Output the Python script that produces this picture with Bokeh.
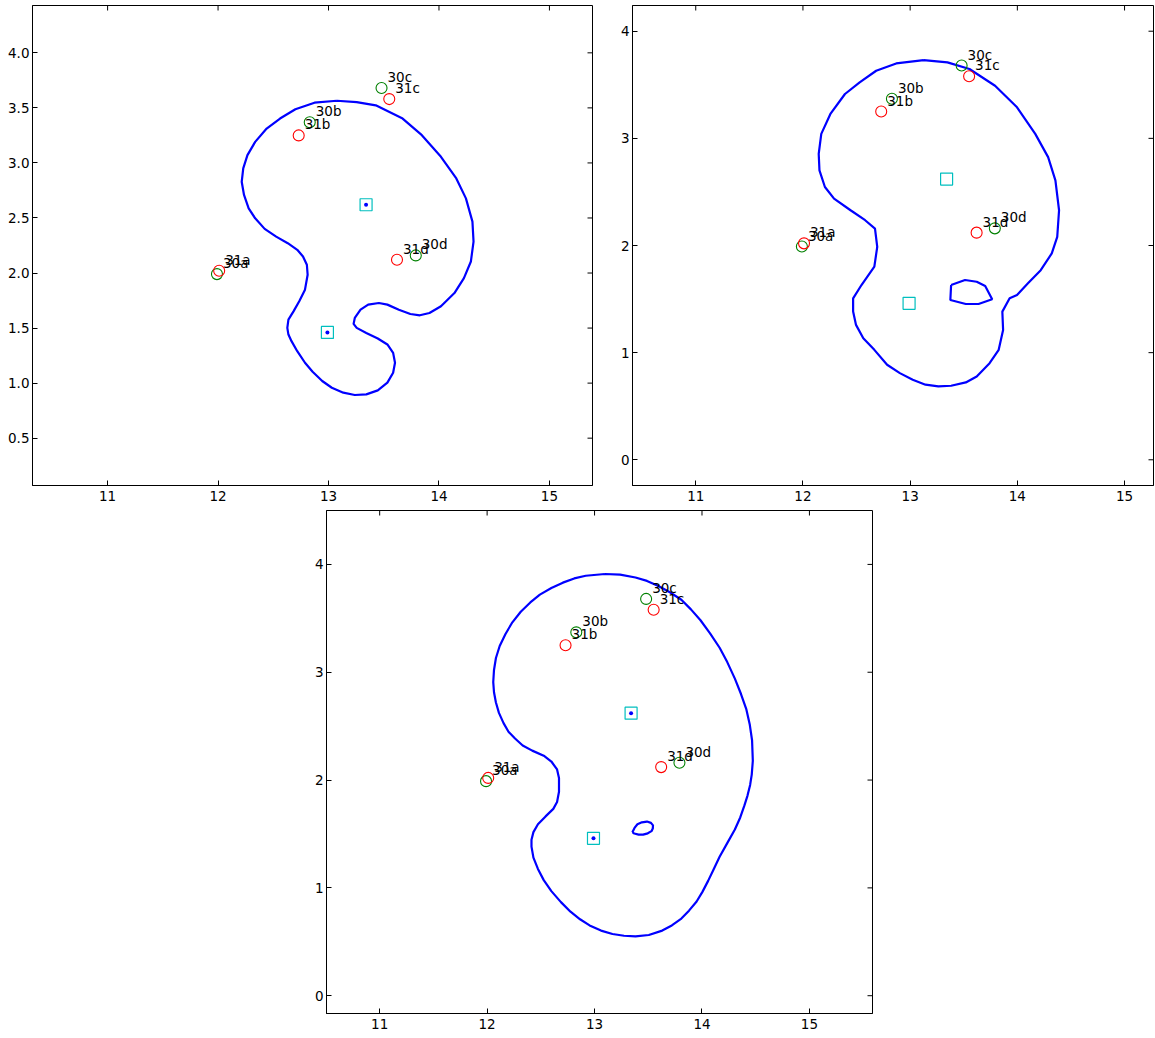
import math
from bokeh.plotting import figure
from bokeh.models import FixedTicker, Spacer, Row, Column, ColumnDataSource, Range1d
from bokeh.core.properties import value
from bokeh.embed import file_html
from bokeh.resources import INLINE

# ---------------- data ----------------
labels30 = ["30a", "30b", "30c", "30d"]
x30 = [11.99, 12.83, 13.48, 13.79]
y30 = [1.99, 3.37, 3.68, 2.16]

labels31 = ["31a", "31b", "31c", "31d"]
x31 = [12.01, 12.73, 13.55, 13.62]
y31 = [2.02, 3.25, 3.58, 2.12]

centers_x = [13.34, 12.99]
centers_y = [2.62, 1.46]

# panel 1 contour
c1_x = [13.075, 13.255, 13.428, 13.671, 13.845, 14.018, 14.157, 14.244, 14.303, 14.313,
        14.289, 14.226, 14.140, 14.018, 13.914, 13.827, 13.741, 13.637, 13.533, 13.456,
        13.359, 13.29, 13.238, 13.227, 13.255, 13.342, 13.446, 13.533, 13.585, 13.602,
        13.585, 13.533, 13.446, 13.342, 13.238, 13.134, 13.03, 12.943, 12.856, 12.787,
        12.717, 12.665, 12.637, 12.627, 12.637, 12.683, 12.735, 12.787, 12.811, 12.804,
        12.769, 12.717, 12.631, 12.526, 12.422, 12.336, 12.277, 12.235, 12.214, 12.228,
        12.266, 12.336, 12.44, 12.561, 12.70, 12.873, 13.075]
c1_y = [3.565, 3.553, 3.523, 3.403, 3.252, 3.056, 2.859, 2.678, 2.467, 2.286,
        2.105, 1.954, 1.818, 1.698, 1.637, 1.616, 1.628, 1.667, 1.713, 1.728,
        1.713, 1.667, 1.592, 1.538, 1.502, 1.456, 1.405, 1.351, 1.275, 1.185,
        1.094, 1.004, 0.934, 0.898, 0.892, 0.913, 0.958, 1.019, 1.103, 1.185,
        1.29, 1.381, 1.441, 1.502, 1.577, 1.652, 1.743, 1.849, 1.984, 2.075,
        2.15, 2.211, 2.271, 2.331, 2.401, 2.497, 2.588, 2.709, 2.829, 2.95,
        3.071, 3.191, 3.312, 3.403, 3.487, 3.547, 3.565]

# panel 2 contour (outer + inner loop)
c2_x = [13.126, 13.348, 13.553, 13.792, 13.997, 14.167, 14.287, 14.355, 14.389, 14.372,
        14.321, 14.218, 14.099, 13.997, 13.928, 13.86, 13.867, 13.826, 13.741, 13.621,
        13.519, 13.382, 13.263, 13.143, 13.024, 12.904, 12.785, 12.666, 12.563, 12.495,
        12.468, 12.468, 12.546, 12.666, 12.693, 12.672, 12.58, 12.444, 12.29, 12.205,
        12.154, 12.147, 12.171, 12.256, 12.392, 12.529, 12.683, 12.87, 13.126]
c2_y = [3.73, 3.709, 3.647, 3.491, 3.29, 3.042, 2.825, 2.608, 2.329, 2.081,
        1.926, 1.77, 1.647, 1.538, 1.507, 1.383, 1.212, 1.026, 0.902, 0.778,
        0.722, 0.691, 0.685, 0.701, 0.747, 0.809, 0.887, 1.026, 1.135, 1.259,
        1.383, 1.507, 1.631, 1.802, 1.988, 2.158, 2.236, 2.329, 2.437, 2.546,
        2.701, 2.856, 3.042, 3.228, 3.414, 3.522, 3.631, 3.699, 3.73]
c2_in_x = [13.382, 13.512, 13.621, 13.70, 13.765, 13.638, 13.519, 13.375, 13.382]
c2_in_y = [1.631, 1.678, 1.662, 1.622, 1.498, 1.454, 1.454, 1.491, 1.631]

# panel 3 contour (outer + inner ellipse)
c3_x = [13.096, 13.238, 13.381, 13.488, 13.594, 13.701, 13.808, 13.897, 13.986, 14.075,
        14.164, 14.235, 14.306, 14.363, 14.413, 14.445, 14.466, 14.473, 14.463, 14.448,
        14.423, 14.395, 14.356, 14.306, 14.235, 14.164, 14.11, 14.057, 14.004, 13.95,
        13.879, 13.808, 13.719, 13.63, 13.505, 13.381, 13.274, 13.167, 13.06, 12.954,
        12.865, 12.776, 12.687, 12.598, 12.527, 12.473, 12.431, 12.413, 12.413, 12.431,
        12.473, 12.544, 12.616, 12.651, 12.669, 12.669, 12.651, 12.598, 12.527, 12.42,
        12.331, 12.26, 12.199, 12.153, 12.11, 12.082, 12.064, 12.057, 12.064, 12.082,
        12.117, 12.171, 12.235, 12.313, 12.402, 12.491, 12.598, 12.705, 12.811, 12.918,
        13.096]
c3_y = [3.911, 3.905, 3.879, 3.847, 3.80, 3.742, 3.672, 3.583, 3.482, 3.361,
        3.227, 3.094, 2.941, 2.798, 2.655, 2.512, 2.369, 2.178, 2.051, 1.955,
        1.854, 1.765, 1.653, 1.542, 1.415, 1.288, 1.176, 1.065, 0.963, 0.874,
        0.789, 0.715, 0.652, 0.604, 0.563, 0.55, 0.556, 0.572, 0.604, 0.652,
        0.709, 0.779, 0.868, 0.97, 1.072, 1.176, 1.281, 1.383, 1.447, 1.517,
        1.59, 1.663, 1.733, 1.796, 1.892, 2.019, 2.099, 2.172, 2.226, 2.273,
        2.321, 2.385, 2.448, 2.528, 2.623, 2.719, 2.814, 2.909, 3.021, 3.132,
        3.243, 3.355, 3.463, 3.561, 3.647, 3.72, 3.781, 3.831, 3.87, 3.895,
        3.911]
c3_in_x = [13.352, 13.372, 13.399, 13.44, 13.488, 13.525, 13.544, 13.542, 13.53, 13.495, 13.452, 13.41, 13.370, 13.352]
c3_in_y = [1.517, 1.556, 1.59, 1.608, 1.615, 1.603, 1.58, 1.55, 1.526, 1.506, 1.494, 1.494, 1.504, 1.517]

x_ticks = [11, 12, 13, 14, 15]
y_ticks_1 = [0.5, 1.0, 1.5, 2.0, 2.5, 3.0, 3.5, 4.0]
y_tick_labels_1 = ["0.5", "1.0", "1.5", "2.0", "2.5", "3.0", "3.5", "4.0"]
y_ticks_2 = [0, 1, 2, 3, 4]

FONT = "DejaVu Sans"
FS = "13.5px"
BLUE = "#0000ff"
GREEN = "#008000"
RED = "#ff0000"
CYAN = "#00bfbf"
TICK = 10  # marker length; half of it falls inside the frame


def style_axes(p, yticks, ylabels=None):
    p.xaxis.ticker = FixedTicker(ticks=x_ticks)
    p.yaxis.ticker = FixedTicker(ticks=yticks)
    if ylabels is not None:
        p.yaxis.major_label_overrides = {t: l for t, l in zip(yticks, ylabels)}
    for ax in [p.xaxis[0], p.yaxis[0]]:
        ax.major_tick_in = 5
        ax.major_tick_out = 0
        ax.minor_tick_line_color = None
        ax.major_tick_line_color = "black"
        ax.axis_line_color = "black"
        ax.major_label_text_font = FONT
        ax.major_label_text_font_size = FS
        ax.major_label_text_color = "black"
    p.xaxis.major_label_standoff = 5
    p.yaxis.major_label_standoff = 3
    # inward ticks on the top and right frame edges
    p.scatter(x_ticks, [p.y_range.end] * len(x_ticks), marker="dash", angle=math.pi / 2,
              size=TICK, line_color="black", line_width=1)
    p.scatter([p.x_range.end] * len(yticks), yticks, marker="dash", angle=0,
              size=TICK, line_color="black", line_width=1)
    p.xgrid.grid_line_color = None
    p.ygrid.grid_line_color = None
    p.outline_line_color = "black"
    p.outline_line_alpha = 1.0
    p.background_fill_color = "white"
    p.border_fill_color = "white"


def add_points(p, dots):
    p.scatter(centers_x, centers_y, marker="square", size=12, fill_color=None,
              line_color=CYAN, line_width=1.2)
    if dots:
        p.scatter(centers_x, centers_y, marker="circle", size=4, fill_color=BLUE,
                  line_color=None)
    p.scatter(x30, y30, marker="circle", size=11, fill_color=None, line_color=GREEN, line_width=1.1)
    p.scatter(x31, y31, marker="circle", size=11, fill_color=None, line_color=RED, line_width=1.1)
    src30 = ColumnDataSource(dict(x=x30, y=y30, t=labels30))
    src31 = ColumnDataSource(dict(x=x31, y=y31, t=labels31))
    for src in (src30, src31):
        p.text(x="x", y="y", text="t", source=src, x_offset=6, y_offset=-11,
               text_font=value(FONT), text_font_size=FS, text_color="black",
               text_baseline="alphabetic", text_align="left")


# ---------------- panel 1 ----------------
p1 = figure(width=597, height=505, x_range=Range1d(10.32, 15.39), y_range=Range1d(0.07, 4.43),
            output_backend="svg", toolbar_location=None,
            min_border_left=27, min_border_right=10, min_border_top=1, min_border_bottom=23)
style_axes(p1, y_ticks_1, y_tick_labels_1)
p1.line(c1_x, c1_y, line_color=BLUE, line_width=2.2)
add_points(p1, True)

# ---------------- panel 2 ----------------
p2 = figure(width=553, height=505, x_range=Range1d(10.41, 15.27), y_range=Range1d(-0.24, 4.24),
            output_backend="svg", toolbar_location=None,
            min_border_left=30, min_border_right=2, min_border_top=2, min_border_bottom=22)
style_axes(p2, y_ticks_2)
p2.line(c2_x, c2_y, line_color=BLUE, line_width=2.2)
p2.line(c2_in_x, c2_in_y, line_color=BLUE, line_width=2.2)
add_points(p2, False)

# ---------------- panel 3 ----------------
p3 = figure(width=586, height=530, x_range=Range1d(10.505, 15.587), y_range=Range1d(-0.165, 4.5),
            output_backend="svg", toolbar_location=None,
            min_border_left=30, min_border_right=10, min_border_top=2, min_border_bottom=25)
style_axes(p3, y_ticks_2)
p3.line(c3_x, c3_y, line_color=BLUE, line_width=2.2)
p3.line(c3_in_x, c3_in_y, line_color=BLUE, line_width=2.2)
add_points(p3, True)

top_row = Row(children=[p1, p2], spacing=0)
bottom_row = Row(children=[Spacer(width=291, height=10), p3], spacing=0)
layout = Column(children=[top_row, bottom_row], spacing=0, margin=(3, 0, 0, 5))

open("out.html", "w").write(file_html(layout, INLINE))
